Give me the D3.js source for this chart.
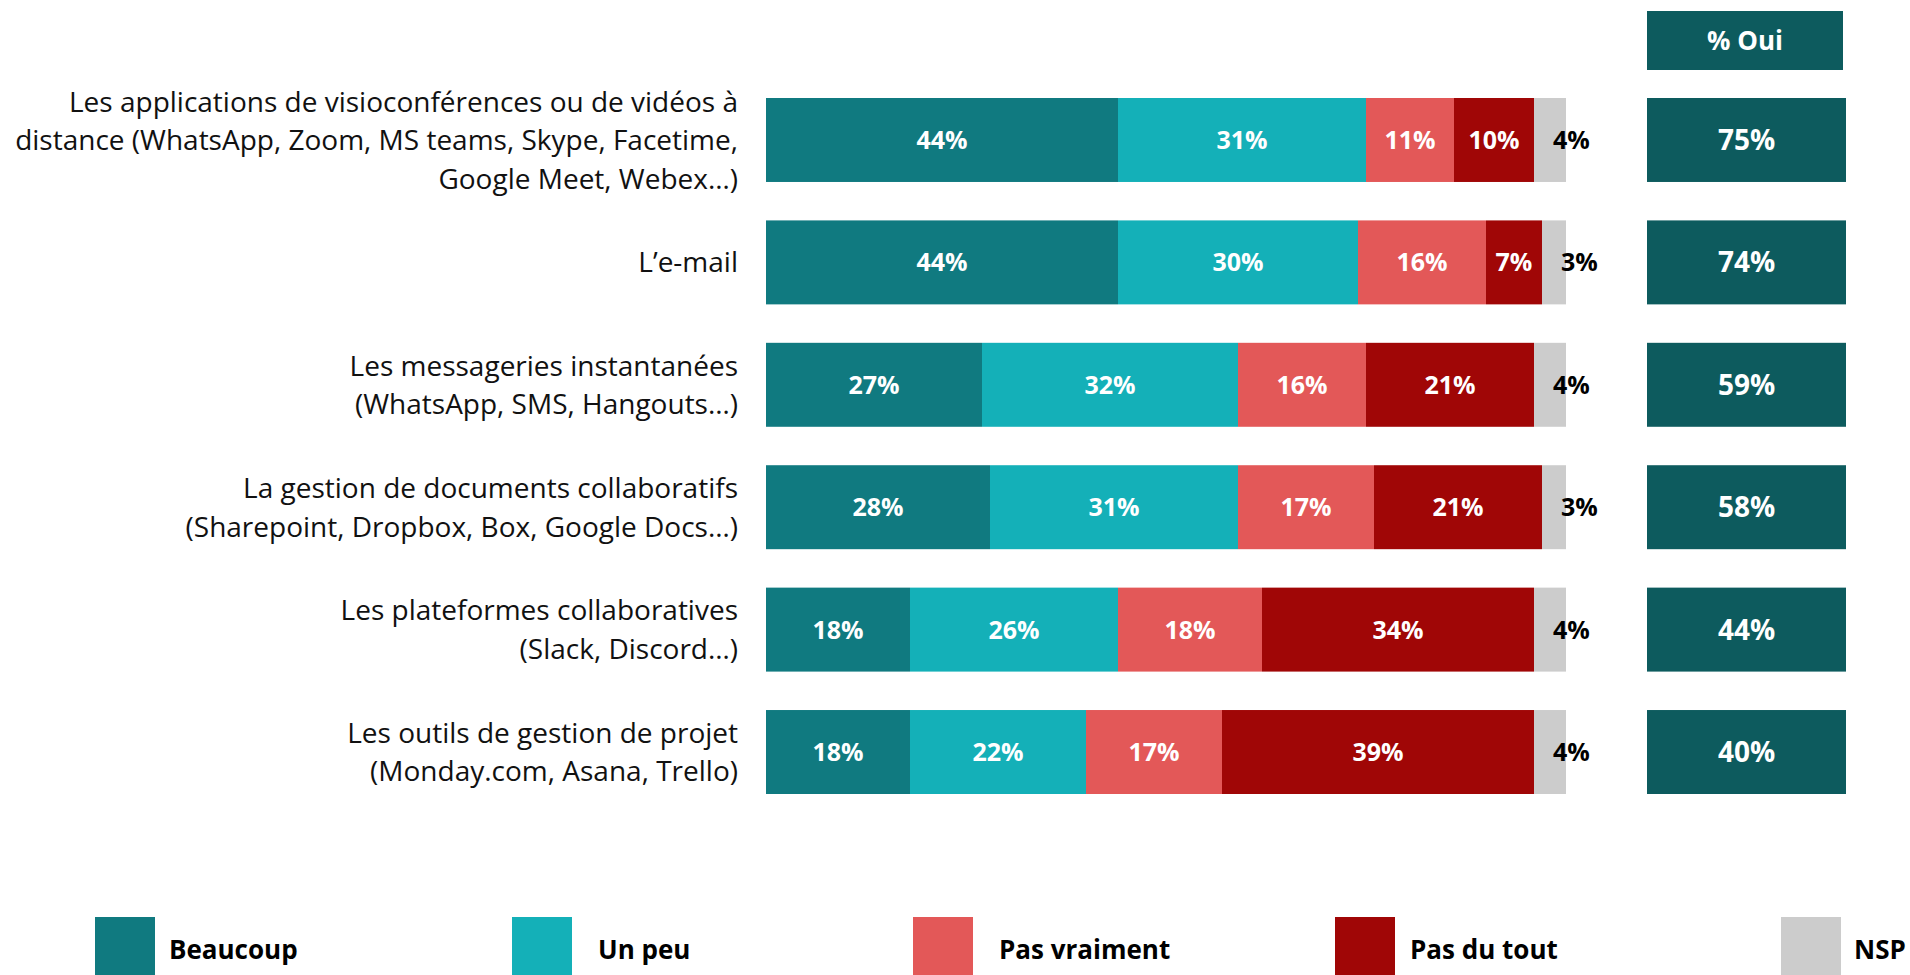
<!DOCTYPE html>
<html>
<head>
<meta charset="utf-8">
<script src="https://cdn.jsdelivr.net/npm/d3@7"></script>
<style>
  body { margin: 0; background: #fff; }
  svg { display: block; }
  text { font-family: "Open Sans", sans-serif; }
</style>
</head>
<body>
<svg id="chart" width="1910" height="975"></svg>
<script>
// categories (one entry per line of the label)
var categories = [
  ["Les applications de visioconférences ou de vidéos à", "distance (WhatsApp, Zoom, MS teams, Skype, Facetime,", "Google Meet, Webex…)"],
  ["L’e-mail"],
  ["Les messageries instantanées", "(WhatsApp, SMS, Hangouts…)"],
  ["La gestion de documents collaboratifs", "(Sharepoint, Dropbox, Box, Google Docs…)"],
  ["Les plateformes collaboratives", "(Slack, Discord…)"],
  ["Les outils de gestion de projet", "(Monday.com, Asana, Trello)"]
]

var beaucoup    = [44, 44, 27, 28, 18, 18]
var unPeu       = [31, 30, 32, 31, 26, 22]
var pasVraiment = [11, 16, 16, 17, 18, 17]
var pasDuTout   = [10, 7, 21, 21, 34, 39]
var nsp         = [4, 3, 4, 3, 4, 4]
var oui         = [75, 74, 59, 58, 44, 40]

var seriesNames = ["Beaucoup", "Un peu", "Pas vraiment", "Pas du tout", "NSP"]
var colors = ["#107a80", "#14b0b8", "#e35858", "#a00606", "#cccccc"]
var ouiColor = "#0d5b5e"

var svg = d3.select("#chart")

var rows = categories.map((c, i) => ({
  i: i,
  lines: c,
  vals: [beaucoup[i], unPeu[i], pasVraiment[i], pasDuTout[i], nsp[i]],
  oui: oui[i]
}))

var x = d3.scaleLinear().domain([0, 100]).range([766, 1566])
var y = d3.scaleBand().domain(d3.range(rows.length)).range([98, 794]).paddingInner(0.314)
var colorScale = d3.scaleOrdinal().domain(seriesNames).range(colors)

// stacked segments
var stack = d3.stack().keys(d3.range(5)).value((d, k) => d.vals[k])
var layers = stack(rows)

var g = svg.append("g")
layers.forEach((layer, k) => {
  var lg = g.append("g")
  lg.selectAll("rect")
    .data(layer)
    .enter().append("rect")
    .attr("x", d => x(d[0]))
    .attr("y", (d, i) => y(i))
    .attr("width", d => x(d[1]) - x(d[0]))
    .attr("height", y.bandwidth())
    .style("fill", colors[k])

  // NSP label sits just past the grey segment, in black
  lg.selectAll("text")
    .data(layer)
    .enter().append("text")
    .attr("x", d => k == 4 ? x(d[0]) + 19 : (x(d[0]) + x(d[1])) / 2)
    .attr("y", (d, i) => y(i) + y.bandwidth() / 2)
    .attr("dy", "0.36em")
    .style("text-anchor", k == 4 ? "start" : "middle")
    .style("font-weight", "bold")
    .style("font-size", "25px")
    .style("fill", k == 4 ? "#000" : "#fff")
    .text(d => (d[1] - d[0]) + "%")
})

// category labels
var lineH = 38.5
rows.forEach(r => {
  var cy = y(r.i) + y.bandwidth() / 2
  var n = r.lines.length
  var t = svg.append("text")
    .attr("x", 738)
    .style("text-anchor", "end")
    .style("font-size", "28px")
    .style("fill", "#111")
  r.lines.forEach((l, j) => {
    t.append("tspan")
      .attr("x", 738)
      .attr("y", cy + (j - (n - 1) / 2) * lineH)
      .attr("dy", "0.36em")
      .text(l)
  })
})

// % Oui column
svg.append("rect")
  .attr("x", 1647).attr("y", 11)
  .attr("width", 196).attr("height", 59)
  .style("fill", ouiColor)
svg.append("text")
  .attr("x", 1745).attr("y", 40.5)
  .attr("dy", "0.36em")
  .style("text-anchor", "middle")
  .style("font-weight", "bold")
  .style("font-size", "26px")
  .style("fill", "#fff")
  .text("% Oui")

svg.selectAll("rect.oui")
  .data(rows)
  .enter().append("rect")
  .attr("class", "oui")
  .attr("x", 1647)
  .attr("y", d => y(d.i))
  .attr("width", 199)
  .attr("height", y.bandwidth())
  .style("fill", ouiColor)

svg.selectAll("text.oui")
  .data(rows)
  .enter().append("text")
  .attr("class", "oui")
  .attr("x", 1746.5)
  .attr("y", d => y(d.i) + y.bandwidth() / 2)
  .attr("dy", "0.36em")
  .style("text-anchor", "middle")
  .style("font-weight", "bold")
  .style("font-size", "28px")
  .style("fill", "#fff")
  .text(d => d.oui + "%")

// legend
var legendX = [95, 512, 913, 1335, 1781]
var legendTextX = [74, 86, 86, 75, 73]
var lg = svg.selectAll("g.legend")
  .data(seriesNames)
  .enter().append("g")
  .attr("class", "legend")
  .attr("transform", (d, i) => "translate(" + legendX[i] + ",917)")
lg.append("rect")
  .attr("width", 60).attr("height", 70)
  .style("fill", d => colorScale(d))
lg.append("text")
  .attr("x", (d, i) => legendTextX[i]).attr("y", 33)
  .attr("dy", "0.36em")
  .style("font-weight", "bold")
  .style("font-size", "26px")
  .style("fill", "#000")
  .text(d => d)
</script>
</body>
</html>
